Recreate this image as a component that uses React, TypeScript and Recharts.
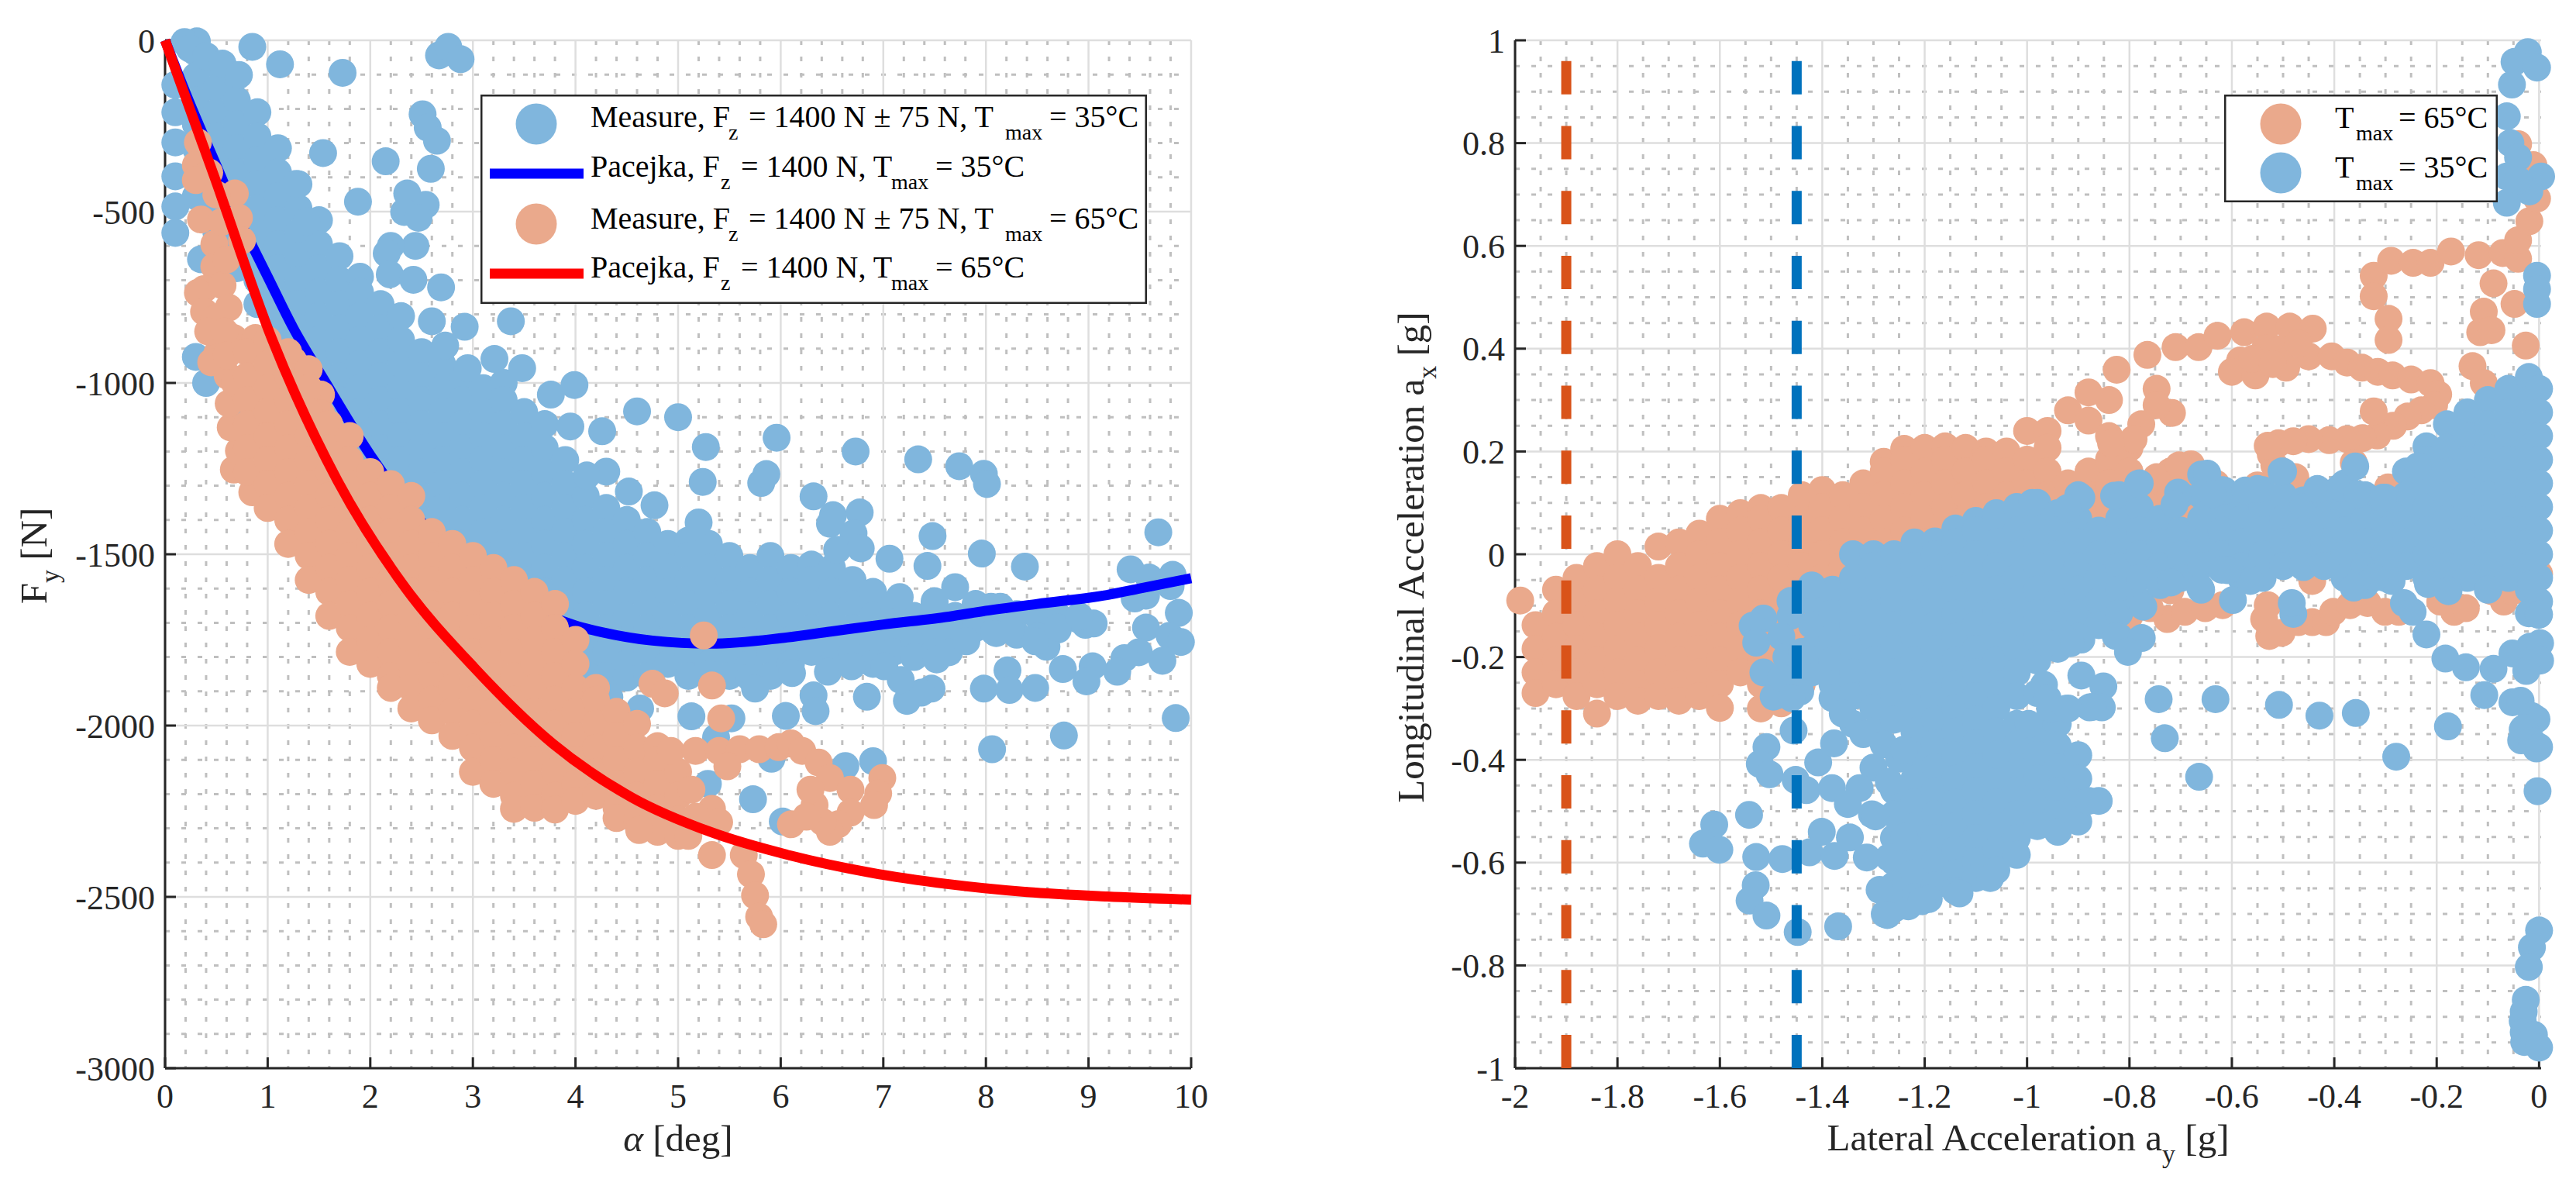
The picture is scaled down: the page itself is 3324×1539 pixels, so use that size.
import {
  CartesianGrid,
  ComposedChart,
  Legend,
  Line,
  Scatter,
  XAxis,
  YAxis,
} from "recharts";

// every row is [x, y, y, y, ...]
const measure35Left = [
  [0.1, -130, -210, -298, -397, -485, -562],
  [0.3, -35, -105, -175, -245, -315, -385, -455],
  [0.5, -70, -140, -210, -280, -350, -420, -490, -560, -630],
  [0.7, -105, -175, -245, -315, -385, -455, -525, -595, -665],
  [0.9, -210, -280, -350, -420, -490, -560, -630, -700, -770],
  [1.1, -315, -385, -455, -525, -595, -665, -735, -805, -875],
  [1.3, -420, -490, -560, -630, -700, -770, -840, -910, -980],
  [1.5, -525, -595, -665, -735, -805, -875, -945, -1015, -1085],
  [1.7, -630, -700, -770, -840, -910, -980, -1050, -1120, -1190],
  [1.9, -690, -735, -805, -875, -945, -1015, -1085, -1155, -1225, -1295],
  [2.1, -770, -840, -910, -980, -1050, -1120, -1190, -1260, -1330, -1400],
  [2.3, -805, -875, -945, -1015, -1085, -1155, -1225, -1295, -1365, -1435, -1505],
  [2.5, -910, -980, -1050, -1120, -1190, -1260, -1330, -1400, -1470, -1540, -1610],
  [2.7, -945, -1015, -1085, -1155, -1225, -1295, -1365, -1435, -1505, -1575, -1645],
  [2.9, -980, -1050, -1120, -1190, -1260, -1330, -1400, -1470, -1540, -1610, -1680],
  [3.1, -1015, -1085, -1155, -1225, -1295, -1365, -1435, -1505, -1575, -1645, -1715],
  [3.3, -1000, -1050, -1120, -1190, -1260, -1330, -1400, -1470, -1540, -1610, -1680, -1750],
  [3.5, -1085, -1155, -1225, -1295, -1365, -1435, -1505, -1575, -1645, -1715, -1785],
  [3.7, -1120, -1190, -1260, -1330, -1400, -1470, -1540, -1610, -1680, -1750, -1820],
  [3.9, -1225, -1295, -1365, -1435, -1505, -1575, -1645, -1715, -1785, -1855],
  [4.1, -1330, -1400, -1470, -1540, -1610, -1680, -1750, -1820, -1850],
  [4.3, -1365, -1435, -1505, -1575, -1645, -1715, -1785, -1855],
  [4.5, -1400, -1470, -1540, -1610, -1680, -1750, -1820, -1860],
  [4.7, -1435, -1505, -1575, -1645, -1715, -1785, -1855],
  [4.9, -1470, -1540, -1610, -1680, -1750, -1820],
  [5.1, -1460, -1505, -1575, -1645, -1715, -1785, -1855],
  [5.3, -1470, -1540, -1610, -1680, -1750, -1820, -1850],
  [5.5, -1505, -1575, -1645, -1715, -1785, -1855],
  [5.7, -1540, -1610, -1680, -1750, -1820, -1860],
  [5.9, -1505, -1575, -1645, -1715, -1785, -1855],
  [6.1, -1540, -1610, -1680, -1750, -1820],
  [6.3, -1530, -1575, -1645, -1715, -1785],
  [6.5, -1540, -1610, -1680, -1750, -1820],
  [6.7, -1575, -1645, -1715, -1785],
  [6.9, -1610, -1680, -1750, -1820],
  [7.1, -1645, -1715, -1785],
  [7.3, -1680, -1750, -1800],
  [7.5, -1645, -1715, -1785],
  [7.7, -1680, -1750],
  [7.9, -1645, -1715],
  [8.1, -1680, -1730],
  [8.3, -1675, -1735],
  [8.5, -1680, -1740],
  [8.7, -1680, -1720],
  [8.9, -1690],
  [0.31, -3], [0.19, -5], [0.24, -24], [0.4, -46], [0.56, -68], [0.72, -101],
  [0.85, -19], [1.12, -70], [1.73, -95], [2.67, -44], [2.76, -19], [2.88, -55],
  [2.51, -216], [2.56, -255], [2.65, -293], [1.54, -329], [2.15, -353], [2.59, -375],
  [2.36, -447], [1.88, -471], [2.54, -480], [2.33, -501], [2.47, -518], [2.44, -600],
  [2.2, -600], [2.16, -622], [2.19, -683], [2.42, -699], [2.69, -721], [2.6, -820],
  [2.92, -836], [3.37, -820], [2.73, -891], [2.95, -957], [3.21, -930], [3.48, -957],
  [3.76, -1034], [3.99, -1006], [4.6, -1083], [5.0, -1100], [3.95, -1127], [4.26, -1141],
  [5.27, -1187], [5.96, -1160], [6.73, -1200], [5.24, -1289], [5.81, -1292], [5.86, -1266],
  [4.3, -1259], [4.11, -1270], [4.52, -1317], [4.77, -1357], [5.2, -1407], [0.35, -639],
  [0.3, -924], [0.4, -1000], [0.77, -1078], [0.77, -1143], [1.28, -419], [1.38, -529],
  [7.34, -1223], [7.74, -1243], [7.98, -1265], [8.01, -1295], [6.32, -1331], [6.51, -1386],
  [6.77, -1378], [6.48, -1411], [7.48, -1447], [6.71, -1439], [6.55, -1487], [6.78, -1483],
  [7.06, -1513], [7.43, -1534], [7.96, -1498], [8.38, -1536], [9.68, -1436], [9.41, -1544],
  [9.82, -1560], [9.59, -1568], [9.8, -1593], [9.45, -1629], [9.56, -1621], [9.88, -1671],
  [9.56, -1714], [9.79, -1738], [9.9, -1756], [9.72, -1811], [9.49, -1786], [9.35, -1803],
  [9.28, -1843], [9.04, -1827], [8.98, -1871], [8.75, -1835], [8.59, -1770], [8.48, -1754],
  [8.97, -1706], [9.05, -1702], [8.7, -1714], [8.21, -1839], [7.98, -1892], [8.23, -1896],
  [8.48, -1890], [7.47, -1892], [7.37, -1904], [7.23, -1928], [7.17, -1867], [7.01, -1827],
  [7.52, -1807], [7.64, -1786], [7.81, -1754], [8.08, -1726], [8.24, -1722], [6.11, -1847],
  [6.46, -1843], [6.69, -1827], [6.32, -1912], [6.34, -1958], [6.05, -1972], [6.84, -1916],
  [8.06, -2069], [8.76, -2029], [9.85, -1978], [6.63, -2118], [6.9, -2104], [6.02, -2280],
  [7.16, -1625], [7.5, -1637], [7.7, -1596], [8.05, -1653], [8.14, -1653], [8.91, -1681],
  [5.75, -1892], [5.52, -1979], [5.13, -1973], [5.37, -2035], [5.29, -2170], [5.73, -2215],
  [5.91, -2097], [4.63, -1950], [4.33, -1917],
];

const measure65Left = [
  [0.32, -298], [0.3, -364], [0.43, -386], [0.3, -408], [0.68, -447], [0.35, -523],
  [0.72, -518], [0.75, -584], [0.48, -595], [0.48, -660], [0.38, -726], [0.32, -737],
  [0.38, -792], [0.56, -715], [0.48, -814], [0.67, -869], [0.51, -913], [0.88, -869],
  [1.25, -935], [0.61, -979], [1.52, -1034], [1.52, -1089], [0.67, -1253], [0.85, -1319],
  [0.72, -1198], [0.64, -1130], [0.62, -1060], [0.5, -450], [0.55, -530], [0.6, -640],
  [0.62, -780], [0.42, -850], [0.58, -850], [0.45, -940], [0.6, -920], [0.68, -1000],
  [0.8, -910, -980, -1050, -1120, -1190, -1260],
  [1.0, -875, -945, -1015, -1085, -1155, -1225, -1295, -1365],
  [1.2, -910, -980, -1050, -1120, -1190, -1260, -1330, -1400, -1470],
  [1.4, -960, -1015, -1085, -1155, -1225, -1295, -1365, -1435, -1505, -1575],
  [1.6, -1120, -1190, -1260, -1330, -1400, -1470, -1540, -1610, -1680],
  [1.8, -1155, -1225, -1295, -1365, -1435, -1505, -1575, -1645, -1715, -1785],
  [2.0, -1260, -1330, -1400, -1470, -1540, -1610, -1680, -1750, -1820],
  [2.2, -1295, -1365, -1435, -1505, -1575, -1645, -1715, -1785, -1855, -1890],
  [2.4, -1330, -1400, -1470, -1540, -1610, -1680, -1750, -1820, -1890, -1950],
  [2.6, -1435, -1505, -1575, -1645, -1715, -1785, -1855, -1925, -1985],
  [2.8, -1470, -1540, -1610, -1680, -1750, -1820, -1890, -1960, -2030],
  [3.0, -1505, -1575, -1645, -1715, -1785, -1855, -1925, -1995, -2065, -2135],
  [3.2, -1540, -1610, -1680, -1750, -1820, -1890, -1960, -2030, -2100, -2170],
  [3.4, -1575, -1645, -1715, -1785, -1855, -1925, -1995, -2065, -2135, -2205, -2243],
  [3.6, -1610, -1680, -1750, -1820, -1890, -1960, -2030, -2100, -2170, -2240],
  [3.8, -1645, -1715, -1785, -1855, -1925, -1995, -2065, -2135, -2205, -2245],
  [4.0, -1750, -1820, -1890, -1960, -2030, -2100, -2170, -2220],
  [4.2, -1890, -1925, -1995, -2065, -2135, -2205],
  [4.4, -1960, -2030, -2100, -2170, -2240, -2270],
  [4.6, -1995, -2065, -2135, -2205, -2275],
  [4.8, -2060, -2100, -2170, -2240, -2310],
  [5.0, -2135, -2205, -2275, -2322],
  [5.25, -1737], [4.75, -1878], [4.87, -1906], [5.33, -1883], [5.42, -1979], [4.93, -2074],
  [5.17, -2074], [5.4, -2074], [5.6, -2069], [5.79, -2069], [5.98, -2063], [6.1, -2052],
  [6.21, -2074], [6.37, -2108], [5.48, -2119], [6.48, -2153], [6.68, -2187], [6.99, -2153],
  [6.95, -2198], [6.91, -2232], [6.68, -2254], [6.56, -2288], [6.48, -2310], [6.41, -2282],
  [6.33, -2232], [6.29, -2187], [6.1, -2288], [6.25, -2266], [5.13, -2187], [5.33, -2243],
  [5.4, -2282], [5.1, -2322], [5.33, -2378], [5.64, -2378], [5.71, -2434], [5.75, -2496],
  [5.79, -2558], [5.83, -2580], [5.17, -2266], [4.62, -2305],
];

const pacejka35 = [
  [0, 0], [0.25, -190], [0.5, -365], [0.75, -540], [0.88, -618], [1, -690], [1.25, -840],
  [1.57, -1001], [2, -1210], [2.5, -1405], [2.84, -1506], [3.25, -1600], [3.5, -1645],
  [4, -1708], [4.25, -1727], [4.75, -1752], [5.32, -1761], [6, -1745], [6.5, -1725],
  [7, -1705], [7.64, -1682], [8, -1665], [8.5, -1645], [9.18, -1619], [9.5, -1600], [10, -1570],
];

const pacejka65 = [
  [0, 0], [0.48, -398], [1.04, -870], [1.68, -1285], [2.31, -1585], [3.01, -1830],
  [3.78, -2053], [4.55, -2210], [5.32, -2311], [6.09, -2379], [6.87, -2429], [7.64, -2463],
  [8.4, -2486], [9.18, -2499], [10, -2508],
];

const measure65Right = [
  [-1.99, -0.09],
  [-1.96, -0.138, -0.184, -0.23, -0.27],
  [-1.92, -0.069, -0.115, -0.161, -0.207, -0.253],
  [-1.88, -0.046, -0.092, -0.138, -0.184, -0.23, -0.276],
  [-1.84, -0.023, -0.069, -0.115, -0.161, -0.207, -0.253, -0.31],
  [-1.8, 0, -0.046, -0.092, -0.138, -0.184, -0.23, -0.276],
  [-1.76, -0.023, -0.069, -0.115, -0.161, -0.207, -0.253, -0.285],
  [-1.72, 0.015, -0.046, -0.092, -0.138, -0.184, -0.23, -0.276],
  [-1.68, 0.023, -0.023, -0.069, -0.115, -0.161, -0.207, -0.253, -0.285],
  [-1.64, 0.04, 0, -0.046, -0.092, -0.138, -0.184, -0.23, -0.276],
  [-1.6, 0.069, 0.023, -0.023, -0.069, -0.115, -0.161, -0.207, -0.253, -0.299],
  [-1.56, 0.08, 0.046, 0, -0.046, -0.092, -0.138, -0.184, -0.23],
  [-1.52, 0.09, 0.069, 0.023, -0.023, -0.069, -0.115, -0.161, -0.207, -0.253, -0.3],
  [-1.48, 0.09, 0.046, 0, -0.046, -0.092, -0.138, -0.184, -0.23, -0.29],
  [-1.44, 0.115, 0.069, 0.023, -0.023, -0.069, -0.115, -0.161, -0.207, -0.253],
  [-1.4, 0.125, 0.092, 0.046, 0, -0.046, -0.092, -0.138],
  [-1.36, 0.115, 0.069, 0.023, -0.023],
  [-1.32, 0.138, 0.092, 0.046, 0],
  [-1.28, 0.18, 0.161, 0.115, 0.069, 0.023],
  [-1.24, 0.205, 0.184, 0.138, 0.092, 0.046],
  [-1.2, 0.207, 0.161, 0.115, 0.069, 0.023],
  [-1.16, 0.21, 0.184, 0.138, 0.092, 0.046],
  [-1.12, 0.207, 0.161, 0.115, 0.069, 0.023],
  [-1.08, 0.2, 0.184, 0.138, 0.092],
  [-1.04, 0.2, 0.161, 0.115, 0.069],
  [-1, 0.24, 0.184, 0.138, 0.092],
  [-0.96, 0.24, 0.207, 0.161, 0.115, 0.069],
  [-0.92, 0.28, 0.138, 0.092, 0.046],
  [-0.88, 0.315, 0.26, 0.161, 0.115, 0.069],
  [-0.84, 0.3, 0.23, 0.184, 0.138, 0.092],
  [-0.8, 0.207, 0.161, 0.115, 0.069],
  [-0.76, 0.138, 0.092, 0.046],
  [-0.72, 0.161, 0.115, 0.069],
  [-0.68, 0.175, 0.138, 0.092],
  [-0.64, 0.115, 0.069],
  [-0.825, 0.359], [-0.765, 0.388], [-0.71, 0.403], [-0.665, 0.403], [-0.628, 0.425],
  [-0.576, 0.432], [-0.532, 0.443], [-0.487, 0.443], [-0.442, 0.439], [-0.584, 0.377],
  [-0.6, 0.355], [-0.554, 0.348], [-0.494, 0.363], [-0.45, 0.385], [-0.509, 0.399],
  [-0.535, 0.4], [-0.56, 0.38], [-0.47, 0.41], [-0.52, 0.37],
  [-0.405, 0.385], [-0.375, 0.373], [-0.346, 0.363], [-0.315, 0.355], [-0.286, 0.348],
  [-0.25, 0.34], [-0.212, 0.333], [-0.197, 0.311], [-0.205, 0.29], [-0.23, 0.28],
  [-0.257, 0.268], [-0.285, 0.25], [-0.316, 0.231], [-0.345, 0.226], [-0.375, 0.224],
  [-0.41, 0.222], [-0.45, 0.224], [-0.48, 0.22], [-0.509, 0.216], [-0.524, 0.194],
  [-0.517, 0.173], [-0.323, 0.278], [-0.717, 0.275], [-0.747, 0.322], [-0.747, 0.29],
  [-0.777, 0.253], [-0.792, 0.224], [-0.836, 0.216], [-0.747, 0.15], [-0.703, 0.173],
  [-0.323, 0.542], [-0.323, 0.502], [-0.294, 0.458], [-0.294, 0.417], [-0.289, 0.571],
  [-0.246, 0.567], [-0.212, 0.567], [-0.172, 0.589], [-0.118, 0.582], [-0.071, 0.586],
  [-0.041, 0.575], [-0.089, 0.527], [-0.108, 0.472], [-0.115, 0.432], [-0.093, 0.436],
  [-0.048, 0.487], [-0.026, 0.406], [-0.13, 0.366], [-0.108, 0.333], [-0.041, 0.611],
  [-0.019, 0.648], [-0.004, 0.692], [-0.011, 0.757], [-0.041, 0.798], [-0.53, 0.211],
  [-0.476, 0.15], [-0.631, 0.137], [-0.55, 0.134], [-0.497, 0.157], [-0.295, 0.13],
  [-0.26, 0.144], [-0.362, 0.178],
  [-0.726, -0.126], [-0.692, -0.112], [-0.652, -0.105], [-0.618, -0.099], [-0.76, -0.105],
  [-0.527, -0.159], [-0.537, -0.126], [-0.53, -0.099], [-0.503, -0.153], [-0.47, -0.132],
  [-0.443, -0.132], [-0.416, -0.132], [-0.402, -0.112], [-0.369, -0.099], [-0.335, -0.095],
  [-0.301, -0.112], [-0.274, -0.112], [-0.443, -0.052], [-0.193, -0.092], [-0.166, -0.112],
  [-0.143, -0.105], [-0.069, -0.092], [-0.052, -0.072], [0, -0.038], [-0.092, -0.072],
  [-0.12, 0.03], [-0.2, 0.02], [-0.28, -0.03], [-0.72, -0.07], [-0.8, -0.12], [-0.9, -0.16],
];

const measure35Right = [
  [-1.42, -0.061, -0.092, -0.138, -0.184, -0.23],
  [-1.38, -0.069, -0.115, -0.161, -0.207, -0.253, -0.28],
  [-1.34, 0, -0.046, -0.092, -0.138, -0.184, -0.23, -0.276, -0.33],
  [-1.3, 0, -0.023, -0.069, -0.115, -0.161, -0.207, -0.253, -0.299, -0.345],
  [-1.26, 0, -0.046, -0.092, -0.138, -0.184, -0.23, -0.276, -0.322, -0.46, -0.506, -0.552, -0.598, -0.644, -0.69],
  [-1.22, 0.023, -0.023, -0.069, -0.115, -0.161, -0.207, -0.253, -0.299, -0.345, -0.391, -0.437, -0.483, -0.529, -0.575, -0.621, -0.667],
  [-1.18, 0.025, 0, -0.046, -0.092, -0.138, -0.184, -0.23, -0.276, -0.322, -0.368, -0.414, -0.46, -0.506, -0.552, -0.598, -0.644],
  [-1.14, 0.05, 0.023, -0.023, -0.069, -0.115, -0.161, -0.207, -0.253, -0.299, -0.345, -0.391, -0.437, -0.483, -0.529, -0.575, -0.621, -0.655],
  [-1.1, 0.065, 0.046, 0, -0.046, -0.092, -0.138, -0.184, -0.23, -0.276, -0.322, -0.368, -0.414, -0.46, -0.506, -0.552, -0.598, -0.63],
  [-1.06, 0.08, 0.069, 0.023, -0.023, -0.069, -0.115, -0.161, -0.207, -0.253, -0.299, -0.345, -0.437, -0.483, -0.529, -0.575, -0.615],
  [-1.02, 0.092, 0.046, 0, -0.046, -0.092, -0.138, -0.184, -0.23, -0.276, -0.33, -0.37, -0.414, -0.46, -0.506, -0.552, -0.585],
  [-0.98, 0.1, 0.069, 0.023, -0.023, -0.069, -0.115, -0.161, -0.207, -0.27, -0.345, -0.391, -0.437, -0.483, -0.529],
  [-0.94, 0.08, 0.046, 0, -0.046, -0.092, -0.138, -0.184, -0.33, -0.372, -0.414, -0.46, -0.506, -0.54],
  [-0.9, 0.115, 0.069, 0.023, -0.023, -0.069, -0.115, -0.161, -0.391, -0.437, -0.483, -0.52],
  [-0.86, 0.046, 0, -0.046, -0.092, -0.138, -0.48],
  [-0.82, 0.115, 0.069, 0.023, -0.023, -0.069, -0.115, -0.161],
  [-0.78, 0.138, 0.092, 0.046, 0, -0.046, -0.092],
  [-0.74, 0.069, 0.023, -0.023, -0.06],
  [-0.7, 0.115, 0.046, 0, -0.046],
  [-0.66, 0.155, 0.115, 0.069, 0.023, -0.023, -0.069],
  [-0.62, 0.125, 0.092, 0.046, 0, -0.03],
  [-0.58, 0.115, 0.069, 0.023, -0.023, -0.05],
  [-0.54, 0.125, 0.092, 0.046, 0, -0.046],
  [-0.5, 0.161, 0.115, 0.069, 0.023, -0.023],
  [-0.46, 0.105, 0.092, 0.046, 0, -0.025],
  [-0.42, 0.115, 0.069, 0.023, -0.023],
  [-0.38, 0.138, 0.092, 0.046, 0, -0.046],
  [-0.34, 0.115, 0.069, 0.023, -0.023, -0.06],
  [-0.3, 0.11, 0.092, 0.046, 0, -0.046],
  [-0.26, 0.161, 0.115, 0.069, 0.023, -0.023],
  [-0.22, 0.21, 0.184, 0.138, 0.092, 0.046, 0, -0.046],
  [-0.18, 0.253, 0.207, 0.161, 0.115, 0.069, 0.023, -0.023, -0.069],
  [-0.14, 0.276, 0.23, 0.184, 0.138, 0.092, 0.046, 0, -0.046],
  [-0.1, 0.3, 0.253, 0.207, 0.161, 0.115, 0.069, 0.023, -0.023, -0.069],
  [-0.06, 0.322, 0.276, 0.23, 0.184, 0.138, 0.092, 0.046, 0, -0.046],
  [-0.02, 0.345, 0.3, 0.253, 0.207, 0.161, 0.115, 0.069, 0.023, -0.023, -0.069, -0.115],
  [0, 0.322, 0.276, 0.23, 0.184, 0.138, 0.092, 0.046, 0, -0.046, -0.092],
  [-0.022, 0.977], [-0.048, 0.958], [-0.004, 0.947], [-0.053, 0.914], [-0.063, 0.852],
  [-0.056, 0.8], [-0.041, 0.772], [0.004, 0.735], [-0.063, 0.735], [-0.063, 0.684],
  [-0.019, 0.706], [-0.041, 0.728], [-0.004, 0.542], [-0.004, 0.516], [-0.004, 0.487],
  [-0.237, 0.171], [-0.648, 0.157], [-0.503, 0.161], [-0.359, 0.171], [-0.433, 0.127],
  [-0.389, 0.13], [-0.355, 0.117], [-0.305, 0.11], [-0.615, 0.124], [-0.574, 0.124],
  [-0.55, 0.127], [-0.638, 0.117], [-0.705, 0.12], [-0.783, 0.137], [-0.83, 0.114],
  [-0.894, 0.11], [-0.921, 0.09], [-0.99, 0.1], [-0.712, 0.097],
  [-0.288, -0.052], [-0.362, -0.065], [-0.321, -0.045], [-0.564, -0.052], [-0.598, -0.089],
  [-0.608, -0.031], [-0.662, -0.065], [-0.719, -0.055], [-0.773, -0.102], [-0.827, -0.159],
  [-0.776, -0.163], [-0.803, -0.19], [-0.894, -0.166], [-0.915, -0.173], [-0.962, -0.173],
  [-0.217, -0.058], [-0.177, -0.072], [-0.264, -0.095], [-0.247, -0.112], [-0.22, -0.156],
  [-0.183, -0.203], [-0.143, -0.22], [-0.089, -0.223], [-0.107, -0.274], [-0.099, -0.068],
  [-0.015, -0.058], [-0.001, -0.118], [-0.48, -0.116], [-0.483, -0.095], [-0.052, -0.193],
  [-0.018, -0.18], [0.002, -0.173], [0.002, -0.207], [-0.025, -0.227], [-0.052, -0.288],
  [-0.005, -0.321], [-0.032, -0.341], [-0.005, -0.378], [-0.035, -0.362], [-0.003, -0.461],
  [-0.178, -0.335], [-0.279, -0.394], [-0.358, -0.309], [-0.429, -0.314], [-0.508, -0.293],
  [-0.632, -0.282], [-0.743, -0.282], [-0.731, -0.358], [-0.664, -0.433], [-0.894, -0.236],
  [-0.851, -0.257], [-0.854, -0.298], [-0.878, -0.298], [-0.925, -0.301], [-0.967, -0.254],
  [-0.955, -0.301], [-0.872, -0.297], [-0.953, -0.3], [-0.997, -0.33],
  [-0.036, -0.285], [-0.014, -0.315], [-0.029, -0.338], [-0.014, -0.364], [0, -0.375], [0, -0.117],
  [0, -0.732], [-0.014, -0.765], [-0.02, -0.803], [-0.026, -0.867], [-0.03, -0.89],
  [-0.032, -0.908], [-0.03, -0.93], [-0.029, -0.949], [-0.01, -0.935], [0, -0.96],
  [-1.462, -0.091], [-1.515, -0.125], [-1.536, -0.139], [-1.529, -0.172], [-1.515, -0.23],
  [-1.495, -0.277], [-1.443, -0.267], [-1.456, -0.343], [-1.509, -0.375], [-1.522, -0.408],
  [-1.503, -0.428], [-1.452, -0.439], [-1.408, -0.405], [-1.377, -0.368], [-1.431, -0.459],
  [-1.381, -0.455], [-1.3, -0.415], [-1.327, -0.455], [-1.35, -0.486], [-1.303, -0.506],
  [-1.543, -0.507], [-1.611, -0.526], [-1.633, -0.563], [-1.601, -0.575], [-1.529, -0.589],
  [-1.478, -0.593], [-1.425, -0.58], [-1.401, -0.54], [-1.376, -0.587], [-1.346, -0.551],
  [-1.313, -0.59], [-1.53, -0.644], [-1.542, -0.674], [-1.509, -0.703], [-1.448, -0.735],
  [-1.369, -0.724], [-1.278, -0.7], [-1.232, -0.685], [-1.192, -0.671], [-1.27, -0.661],
  [-1.296, -0.51], [-1.288, -0.653], [-1.273, -0.702], [-1.206, -0.675], [-1.132, -0.66],
  [-1.072, -0.63], [-0.88, -0.48], [-1.421, -0.061], [-1.462, -0.12], [-1.48, -0.16],
  [-1.47, -0.2], [-1.48, -0.24], [-1.44, -0.19], [-1.46, -0.28], [-1.25, -0.398],
  [-1.27, -0.443], [-1.24, -0.55], [-1.27, -0.59], [-1.36, -0.31], [-1.32, -0.35],
  [-1.28, -0.37], [-1.24, -0.38], [-1.06, -0.39], [-0.92, -0.3], [-0.96, -0.28],
];

const limit65 = [[-1.9, -1], [-1.9, 0.96]];
const limit35 = [[-1.45, -1], [-1.45, 0.96]];

const leftXTicks = [0, 1, 2, 3, 4, 5, 6, 7, 8, 9, 10];
const leftYTicks = [-3000, -2500, -2000, -1500, -1000, -500, 0];
const leftXMinor = [
  0.2, 0.4, 0.6, 0.8, 1.2, 1.4, 1.6, 1.8, 2.2, 2.4, 2.6, 2.8, 3.2, 3.4, 3.6, 3.8, 4.2, 4.4, 4.6, 4.8,
  5.2, 5.4, 5.6, 5.8, 6.2, 6.4, 6.6, 6.8, 7.2, 7.4, 7.6, 7.8, 8.2, 8.4, 8.6, 8.8, 9.2, 9.4, 9.6, 9.8,
];
const leftYMinor = [
  -2900, -2800, -2700, -2600, -2400, -2300, -2200, -2100, -1900, -1800, -1700, -1600,
  -1400, -1300, -1200, -1100, -900, -800, -700, -600, -400, -300, -200, -100,
];
const rightXTicks = [-2, -1.8, -1.6, -1.4, -1.2, -1, -0.8, -0.6, -0.4, -0.2, 0];
const rightYTicks = [-1, -0.8, -0.6, -0.4, -0.2, 0, 0.2, 0.4, 0.6, 0.8, 1];
const rightXMinor = [
  -1.95, -1.9, -1.85, -1.75, -1.7, -1.65, -1.55, -1.5, -1.45, -1.35, -1.3, -1.25, -1.15, -1.1, -1.05,
  -0.95, -0.9, -0.85, -0.75, -0.7, -0.65, -0.55, -0.5, -0.45, -0.35, -0.3, -0.25, -0.15, -0.1, -0.05,
];
const rightYMinor = [
  -0.95, -0.9, -0.85, -0.75, -0.7, -0.65, -0.55, -0.5, -0.45, -0.35, -0.3, -0.25, -0.15, -0.1, -0.05,
  0.05, 0.1, 0.15, 0.25, 0.3, 0.35, 0.45, 0.5, 0.55, 0.65, 0.7, 0.75, 0.85, 0.9, 0.95,
];

const BLUE = "#80b6dd";
const ORANGE = "#eaa98c";
const SERIF = "'Liberation Serif', serif";
const INK = "#262626";

function toPoints(rows: number[][]) {
  return rows.flatMap(([x, ...ys]) => ys.map((y) => ({ x, y })));
}

function toLine(rows: number[][]) {
  return rows.map(([x, y]) => ({ x, y }));
}

const dot = (fill: string) => (props: any) => <circle cx={props.cx} cy={props.cy} r={18} fill={fill} />;

const tickStyle = { fontSize: 44, fontFamily: SERIF, fill: INK };
const axisLine = { stroke: INK, strokeWidth: 3 };

function grid(xMinor: number[], yMinor: number[], xMajor: number[], yMajor: number[]) {
  return [
    <CartesianGrid
      key="minor"
      verticalValues={xMinor}
      horizontalValues={yMinor}
      stroke="#bfbfbf"
      strokeWidth={3}
      strokeDasharray="6 15"
    />,
    <CartesianGrid key="major" verticalValues={xMajor} horizontalValues={yMajor} stroke="#dedede" strokeWidth={2.5} />,
  ];
}

function MaxRow({ y, parts }: { y: number; parts: [string, number, boolean?][] }) {
  return (
    <>
      {parts.map(([label, x, sub]) => (
        <text key={label + x} x={x} y={sub ? y + 16 : y} fontSize={sub ? 28 : 40} fontFamily={SERIF} fill="#000">
          {label}
        </text>
      ))}
    </>
  );
}

function LeftLegend() {
  return (
    <svg width={860} height={270} viewBox="620 122 860 270" style={{ display: "block" }}>
      <rect x={621} y={123} width={858} height={268} fill="#fff" stroke={INK} strokeWidth={3} />
      <circle cx={692} cy={160} r={26.5} fill={BLUE} />
      <rect x={632} y={217.5} width={121} height={13} fill="#0000ff" />
      <circle cx={692} cy={289} r={26.5} fill={ORANGE} />
      <rect x={632} y={346.5} width={121} height={13} fill="#ff0000" />
      <MaxRow y={164} parts={[["Measure, F", 762], ["z", 940, true], ["= 1400 N ± 75 N, T", 966], ["max", 1297, true], ["= 35°C", 1354]]} />
      <MaxRow y={228} parts={[["Pacejka, F", 762], ["z", 930, true], ["= 1400 N, T", 956], ["max", 1150, true], ["= 35°C", 1207]]} />
      <MaxRow y={295} parts={[["Measure, F", 762], ["z", 940, true], ["= 1400 N ± 75 N, T", 966], ["max", 1297, true], ["= 65°C", 1354]]} />
      <MaxRow y={358} parts={[["Pacejka, F", 762], ["z", 930, true], ["= 1400 N, T", 956], ["max", 1150, true], ["= 65°C", 1207]]} />
    </svg>
  );
}

function RightLegend() {
  return (
    <svg width={353} height={139} viewBox="2870 122 353 139" style={{ display: "block" }}>
      <rect x={2871} y={123} width={351} height={137} fill="#fff" stroke={INK} strokeWidth={3} />
      <circle cx={2943} cy={160} r={26.5} fill={ORANGE} />
      <circle cx={2943} cy={223} r={26.5} fill={BLUE} />
      <MaxRow y={165} parts={[["T", 3013], ["max", 3040, true], ["= 65°C", 3095]]} />
      <MaxRow y={229} parts={[["T", 3013], ["max", 3040, true], ["= 35°C", 3095]]} />
    </svg>
  );
}

function AxisTitle({ x, y, rotate, children }: { x: number; y: number; rotate?: boolean; children: any }) {
  return (
    <text
      x={x}
      y={y}
      textAnchor="middle"
      fontSize={49}
      fontFamily={SERIF}
      fill={INK}
      transform={rotate ? `rotate(-90 ${x} ${y})` : undefined}
    >
      {children}
    </text>
  );
}

function ForceChart() {
  return (
    <ComposedChart width={1660} height={1539} margin={{ left: 113, right: 123, top: 52, bottom: 91 }}>
      {grid(leftXMinor, leftYMinor, leftXTicks, leftYTicks)}
      <XAxis
        dataKey="x"
        type="number"
        domain={[0, 10]}
        ticks={leftXTicks}
        interval={0}
        height={70}
        tick={tickStyle}
        tickSize={-14}
        tickMargin={34}
        tickLine={axisLine}
        axisLine={axisLine}
      />
      <YAxis
        dataKey="y"
        type="number"
        domain={[-3000, 0]}
        ticks={leftYTicks}
        interval={0}
        width={100}
        tick={tickStyle}
        tickSize={-14}
        tickMargin={27}
        tickLine={axisLine}
        axisLine={axisLine}
      />
      <Scatter data={toPoints(measure35Left)} shape={dot(BLUE)} isAnimationActive={false} zIndex={601} />
      <Line data={toLine(pacejka35)} dataKey="y" type="monotone" stroke="#0000ff" strokeWidth={13} dot={false} isAnimationActive={false} zIndex={602} />
      <Scatter data={toPoints(measure65Left)} shape={dot(ORANGE)} isAnimationActive={false} zIndex={603} />
      <Line data={toLine(pacejka65)} dataKey="y" type="monotone" stroke="#ff0000" strokeWidth={13} dot={false} isAnimationActive={false} zIndex={604} />
      <Legend
        layout="horizontal"
        verticalAlign="middle"
        align="center"
        content={() => <LeftLegend />}
        wrapperStyle={{ left: 620, top: 122, width: 860, height: 270, bottom: "auto" }}
      />
      <AxisTitle x={875} y={1485}>
        <tspan fontStyle="italic">α</tspan> [deg]
      </AxisTitle>
      <AxisTitle x={60} y={717} rotate>
        F<tspan dy={16} fontSize={34}>y</tspan>
        <tspan dy={-16}> [N]</tspan>
      </AxisTitle>
    </ComposedChart>
  );
}

function AccelChart() {
  return (
    <ComposedChart width={1664} height={1539} margin={{ left: 195, right: 45, top: 52, bottom: 91 }}>
      {grid(rightXMinor, rightYMinor, rightXTicks, rightYTicks)}
      <XAxis
        dataKey="x"
        type="number"
        domain={[-2, 0]}
        ticks={rightXTicks}
        interval={0}
        height={70}
        tick={tickStyle}
        tickSize={-14}
        tickMargin={34}
        tickLine={axisLine}
        axisLine={axisLine}
      />
      <YAxis
        dataKey="y"
        type="number"
        domain={[-1, 1]}
        ticks={rightYTicks}
        interval={0}
        width={100}
        tick={tickStyle}
        tickSize={-14}
        tickMargin={27}
        tickLine={axisLine}
        axisLine={axisLine}
      />
      <Scatter data={toPoints(measure65Right)} shape={dot(ORANGE)} isAnimationActive={false} zIndex={601} />
      <Scatter data={toPoints(measure35Right)} shape={dot(BLUE)} isAnimationActive={false} zIndex={602} />
      <Line data={toLine(limit65)} dataKey="y" stroke="#d95319" strokeWidth={13} strokeDasharray="43 40.75" dot={false} isAnimationActive={false} zIndex={603} />
      <Line data={toLine(limit35)} dataKey="y" stroke="#0072bd" strokeWidth={13} strokeDasharray="43 40.75" dot={false} isAnimationActive={false} zIndex={604} />
      <Legend
        layout="horizontal"
        verticalAlign="middle"
        align="center"
        content={() => <RightLegend />}
        wrapperStyle={{ left: 2870 - 1660, top: 122, width: 353, height: 139, bottom: "auto" }}
      />
      <AxisTitle x={2617 - 1660} y={1484}>
        Lateral Acceleration a<tspan dy={16} fontSize={34}>y</tspan>
        <tspan dy={-16}> [g]</tspan>
      </AxisTitle>
      <AxisTitle x={1837 - 1660} y={719} rotate>
        Longitudinal Acceleration a<tspan dy={16} fontSize={34}>x</tspan>
        <tspan dy={-16}> [g]</tspan>
      </AxisTitle>
    </ComposedChart>
  );
}

export default function App() {
  return (
    <div style={{ position: "absolute", left: 0, top: 0, width: 3324, height: 1539, background: "#fff", overflow: "hidden" }}>
      <div style={{ position: "absolute", left: 0, top: 0 }}>
        <ForceChart />
      </div>
      <div style={{ position: "absolute", left: 1660, top: 0 }}>
        <AccelChart />
      </div>
    </div>
  );
}
